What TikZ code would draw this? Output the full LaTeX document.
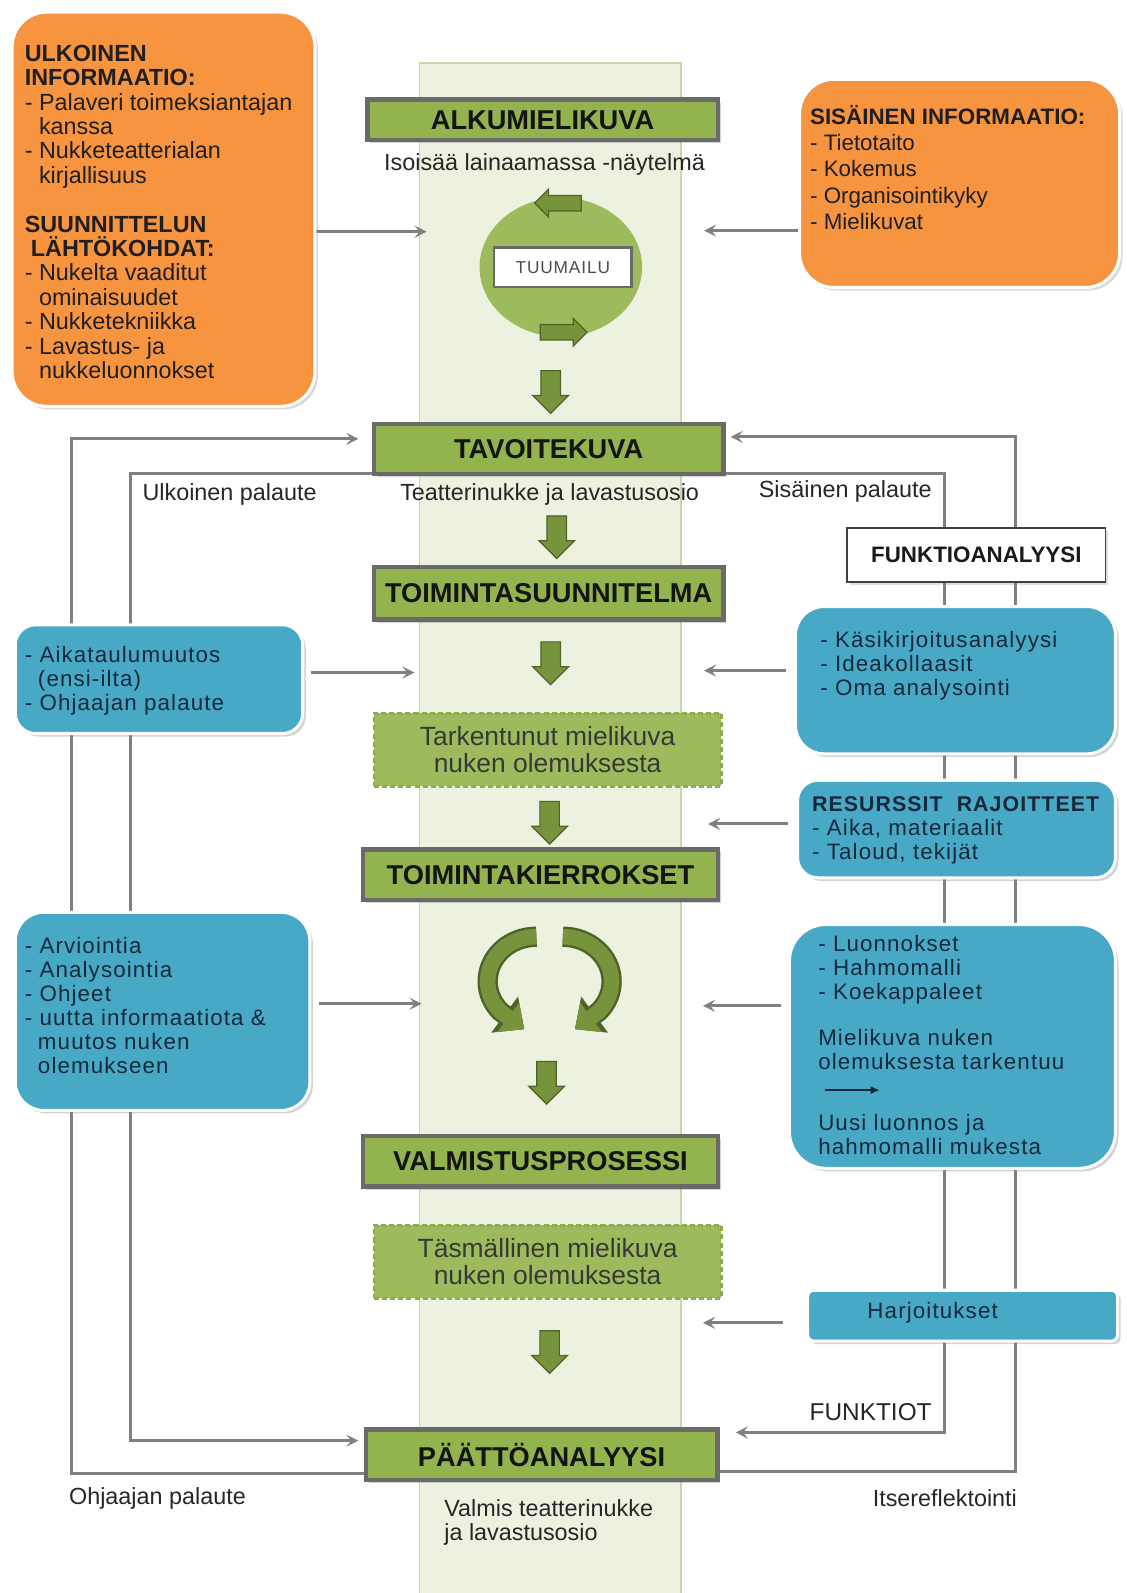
\documentclass[tikz,border=0pt]{standalone}
\usepackage{fontspec}
\setmainfont{Liberation Sans}
\newfontfamily\widefont[LetterSpace=5]{Liberation Sans}
\usetikzlibrary{shapes.geometric,shapes.arrows,arrows.meta,shadows,backgrounds,calc}
\definecolor{band}{HTML}{EDF2E0}
\definecolor{bandedge}{HTML}{C9D6AA}
\definecolor{tgreen}{HTML}{92B34E}
\definecolor{dgreen}{HTML}{77933C}
\definecolor{dkgreen}{HTML}{4F6228}
\definecolor{lgreen}{HTML}{9DBB5C}
\definecolor{orng}{HTML}{F7943F}
\definecolor{blu}{HTML}{48A9C7}
\definecolor{fbgray}{HTML}{808080}
\definecolor{bordgray}{HTML}{6A6A6A}
\definecolor{navy}{HTML}{17283A}
\tikzset{
 tbox/.style={rectangle, draw=bordgray, line width=2.2pt, fill=tgreen, text=black!92,
   font=\fontsize{13.4}{15}\selectfont\bfseries,
   drop shadow={shadow xshift=1.5pt, shadow yshift=-1.5pt, opacity=0.35}},
 dbox/.style={rectangle, fill=lgreen, draw=lgreen!60!dgreen, line width=1.3pt,
   dash pattern=on 2.5pt off 1.5pt, text=black!78, align=center,
   font=\fontsize{13}{13.5}\selectfont, minimum width=171pt, minimum height=36pt},
 obox/.style={rectangle, rounded corners=17pt, fill=orng, draw=white, line width=1.5pt,
   drop shadow={shadow xshift=1.5pt, shadow yshift=-1.5pt, opacity=0.3}},
 bbox/.style={rectangle, fill=blu, draw=white, line width=1.5pt,
   drop shadow={shadow xshift=1.5pt, shadow yshift=-1.5pt, opacity=0.35}},
 btxt/.style={anchor=north west, inner sep=0pt, align=left, text=navy,
   font=\widefont\fontsize{11}{11.8}\selectfont},
 otxt/.style={anchor=north west, inner sep=0pt, align=left, text=black!88,
   font=\fontsize{11.5}{12}\selectfont},
 lbl/.style={inner sep=0pt, text=black!85, font=\fontsize{11.5}{13}\selectfont},
 fb/.style={draw=fbgray, line width=1.5pt, -{Stealth[length=6pt, width=6pt, inset=2.5pt]}},
 barrow/.style={single arrow, fill=dgreen, draw=dkgreen, line width=0.6pt,
   minimum height=21pt, inner sep=4.5pt, single arrow head extend=4pt, single arrow tip angle=90},
 sarrow/.style={barrow, minimum height=23pt, inner sep=3.5pt, single arrow head extend=3pt},
 cycd/.style={draw=dkgreen, line width=10pt, -{Triangle[width=22pt,length=12pt,line width=0.4pt]}},
 cycl/.style={draw=dgreen, line width=7.6pt, -{Triangle[width=18pt,length=9.8pt,line width=0.4pt]}},
}
\begin{document}
\begin{tikzpicture}[x=0.5pt,y=-0.5pt]
\useasboundingbox (0,0) rectangle (1109,1568);

% title boxes
\node[tbox, minimum width=172.5pt, minimum height=20pt] (alku) at (534,118) {ALKUMIELIKUVA};
\node[tbox, minimum width=172pt, minimum height=24.5pt] (tavoite) at (540,442) {TAVOITEKUVA};
\node[tbox, minimum width=172pt, minimum height=26pt] (tsuun) at (540,584) {TOIMINTASUUNNITELMA};
\node[tbox, minimum width=174.5pt, minimum height=25pt] (tkier) at (532,861) {TOIMINTAKIERROKSET};
\node[tbox, minimum width=174.5pt, minimum height=25pt] (valm) at (532,1143) {VALMISTUSPROSESSI};
\node[tbox, minimum width=173pt, minimum height=25pt] (paatto) at (533,1432) {PÄÄTTÖANALYYSI};

% subtitles
\node[lbl] (isoisa) at (536,162) {Isoisää lainaamassa -näytelmä};
\node[lbl] (teatt) at (541,487) {Teatterinukke ja lavastusosio};
\node[lbl, anchor=north west, align=left, font=\fontsize{11.5}{11.5}\selectfont] (valmist) at (437,1476) {Valmis teatterinukke\\ja lavastusosio};

% tuumailu circle
\node[ellipse, fill=lgreen, minimum width=80pt, minimum height=68.5pt, inner sep=0pt] (circ) at (552,263) {};
\node[draw=bordgray, line width=1.1pt, fill=white, minimum width=67.5pt, minimum height=19.5pt, inner sep=0pt, text=black!70, font=\widefont\fontsize{8.5}{10}\selectfont] (tuum) at (554,263) {TUUMAILU};
\node[sarrow, rotate=180] (ca1) at (553,200) {};
\node[sarrow] (ca2) at (551,327) {};

% down arrows
\node[barrow, rotate=-90] (d1) at (542,381) {};
\node[barrow, rotate=-90] (d2) at (548,524) {};
\node[barrow, rotate=-90] (d3) at (542,648) {};
\node[barrow, rotate=-90] (d4) at (541,805) {};
\node[barrow, rotate=-90] (d5) at (538,1061) {};
\node[barrow, rotate=-90] (d6) at (541,1326) {};

% dashed boxes
\node[dbox] (tark) at (539,738) {Tarkentunut mielikuva\\nuken olemuksesta};
\node[dbox] (tasm) at (539,1242) {Täsmällinen mielikuva\\nuken olemuksesta};

% cycle arrows
\draw[cycd] (528,922) arc[start angle=-90, end angle=-222, x radius=48, y radius=44] -- (516,1013);
\draw[cycl] (528,922) arc[start angle=-90, end angle=-222, x radius=48, y radius=44] -- (516,1013);
\draw[cycd] (554,922) arc[start angle=-90, end angle=42, x radius=48, y radius=44] -- (566,1013);
\draw[cycl] (554,922) arc[start angle=-90, end angle=42, x radius=48, y radius=44] -- (566,1013);

% orange boxes
\node[obox, minimum width=149pt, minimum height=194pt] (ulk) at (161,206) {};
\node[otxt] (ulkt) at (24,44) {\textbf{ULKOINEN}\\\textbf{INFORMAATIO:}\\- Palaveri toimeksiantajan\\\hspace*{7pt}kanssa\\- Nukketeatterialan\\\hspace*{7pt}kirjallisuus\\[12pt]\textbf{SUUNNITTELUN}\\\hspace*{3pt}\textbf{LÄHTÖKOHDAT:}\\- Nukelta vaaditut\\\hspace*{7pt}ominaisuudet\\- Nukketekniikka\\- Lavastus- ja\\\hspace*{7pt}nukkeluonnokset};
\node[obox, minimum width=157.5pt, minimum height=102.5pt] (sis) at (944.5,180.5) {};
\node[otxt, font=\fontsize{11}{13}\selectfont] (sist) at (797,103) {\textbf{SISÄINEN INFORMAATIO:}\\- Tietotaito\\- Kokemus\\- Organisointikyky\\- Mielikuvat};

% blue boxes left
\node[bbox, rounded corners=10pt, minimum width=141.5pt, minimum height=53.5pt] (bA) at (156.5,668.5) {};
\node[btxt] (bAt) at (24,636) {- Aikataulumuutos\\\hspace*{6.5pt}(ensi-ilta)\\- Ohjaajan palaute};
\node[bbox, rounded corners=14pt, minimum width=145pt, minimum height=97.5pt] (bB) at (160,995.5) {};
\node[btxt] (bBt) at (24,922) {- Arviointia\\- Analysointia\\- Ohjeet\\- uutta informaatiota \&\\\hspace*{6.5pt}muutos nuken\\\hspace*{6.5pt}olemukseen};

% right side boxes
\node[draw=black!75, line width=0.8pt, fill=white, minimum width=127pt, minimum height=26.5pt, text=black!90, font=\fontsize{11}{13}\selectfont\bfseries, drop shadow={shadow xshift=1.2pt, shadow yshift=-1.2pt, opacity=0.25}] (funk) at (961,546.5) {FUNKTIOANALYYSI};
\node[bbox, rounded corners=14pt, minimum width=157.5pt, minimum height=72.5pt] (bR1) at (940.5,669.5) {};
\node[btxt] (bR1t) at (807,621) {- Käsikirjoitusanalyysi\\- Ideakollaasit\\- Oma analysointi};
\node[bbox, rounded corners=10pt, minimum width=156.5pt, minimum height=48pt] (bR2) at (941.5,816) {};
\node[btxt] (bR2t) at (799,784) {{\fontsize{10.5}{11.8}\selectfont\textbf{RESURSSIT~ RAJOITTEET}}\\- Aika, materiaalit\\- Taloud, tekijät};
\node[bbox, rounded corners=18pt, minimum width=160.5pt, minimum height=120pt] (bR3) at (937.5,1030) {};
\node[btxt] (bR3a) at (805,920) {- Luonnokset\\- Hahmomalli\\- Koekappaleet};
\node[btxt] (bR3b) at (805,1013) {Mielikuva nuken\\olemuksesta tarkentuu};
\coordinate (sa1) at (812,1073);
\coordinate (sa2) at (866,1073);
\draw[navy, line width=0.8pt, -{Latex[length=4.5pt,width=4pt]}] (sa1) -- (sa2);
\node[btxt] (bR3c) at (805,1096) {Uusi luonnos ja\\hahmomalli mukesta};
\node[bbox, rounded corners=3pt, minimum width=152.5pt, minimum height=25pt] (harj) at (947.5,1295) {};
\node[btxt, anchor=center] (harjt) at (918,1292) {Harjoitukset};

% labels
\node[lbl] (ulkp) at (226,487) {Ulkoinen palaute};
\node[lbl] (sisp) at (832,484) {Sisäinen palaute};
\node[lbl, font=\fontsize{12}{13}\selectfont] (funkt) at (857,1390) {FUNKTIOT};
\node[lbl] (ohj) at (155,1475) {Ohjaajan palaute};
\node[lbl] (itse) at (930,1475) {Itsereflektointi};

% coordinates for connectors
\coordinate (lob) at (70,1450);
\coordinate (lot) at (70,432);
\coordinate (lit) at (128,466);
\coordinate (lib) at (128,1418);
\coordinate (rot) at (1000,430);
\coordinate (rob) at (1000,1448);
\coordinate (rit) at (930,466);
\coordinate (rib) at (930,1410);
\coordinate (e1) at (420,228);
\coordinate (e2) at (693,227);
\coordinate (e3) at (408,662);
\coordinate (e4) at (693,660);
\coordinate (e5) at (697,811);
\coordinate (e6) at (415,988);
\coordinate (e7) at (692,990);
\coordinate (e8) at (692,1302);

\begin{scope}[on background layer]
\draw[fill=band, draw=bandedge, line width=0.8pt] (413,62) rectangle (670,1590);
% feedback loops
\draw[fb] (paatto.west |- lob) -- (lob) -- (lot) -- ($(tavoite.west |- lot)+(-13,0)$);
\draw[fb] (tavoite.west |- lit) -- (lit) -- (lib) -- ($(paatto.west |- lib)+(-5,0)$);
\draw[fb] (paatto.east |- rob) -- (rob) -- (rot) -- ($(tavoite.east |- rot)+(5,0)$);
\draw[fb] (tavoite.east |- rit) -- (rit) -- (rib) -- ($(paatto.east |- rib)+(16,0)$);
% input arrows
\draw[fb] (ulk.east |- e1) -- (e1);
\draw[fb] (sis.west |- e2) -- (e2);
\draw[fb] ($(bA.east |- e3)+(7,0)$) -- (e3);
\draw[fb] ($(bR1.west |- e4)+(-8,0)$) -- (e4);
\draw[fb] ($(bR2.west |- e5)+(-8,0)$) -- (e5);
\draw[fb] ($(bB.east |- e6)+(7,0)$) -- (e6);
\draw[fb] ($(bR3.west |- e7)+(-7,0)$) -- (e7);
\draw[fb] ($(harj.west |- e8)+(-23,0)$) -- (e8);
\end{scope}
\end{tikzpicture}
\end{document}
